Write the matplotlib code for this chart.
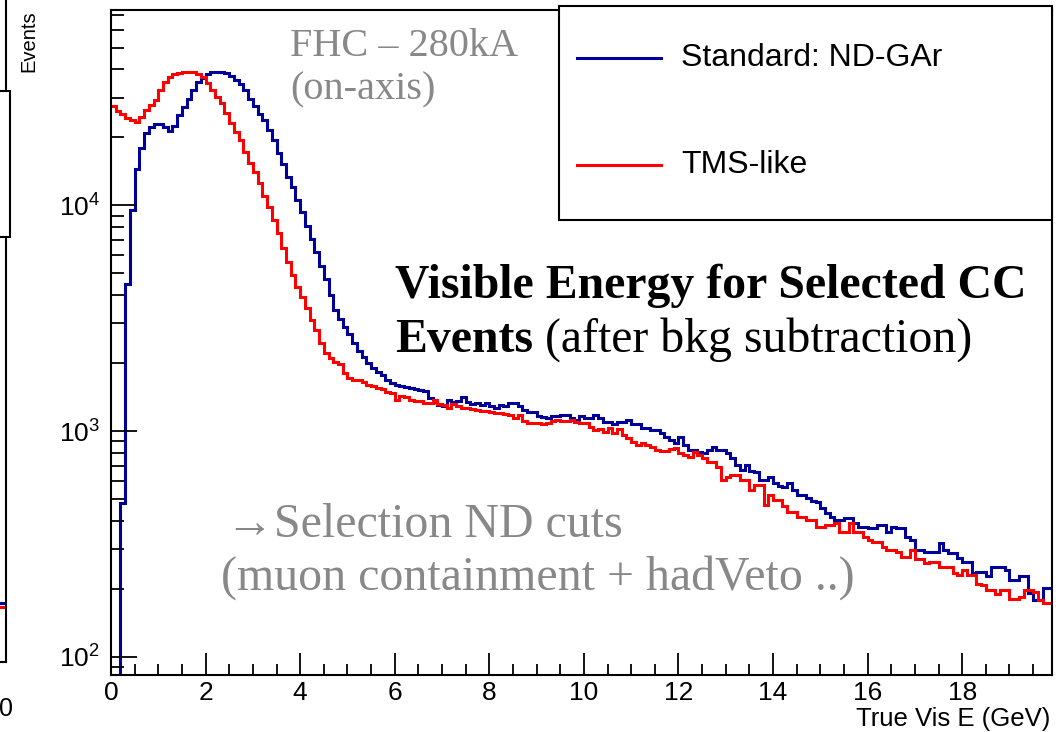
import matplotlib
matplotlib.use("Agg")
import matplotlib.pyplot as plt
import numpy as np
from matplotlib.patches import Rectangle
from matplotlib.lines import Line2D
from matplotlib.ticker import MultipleLocator, LogLocator, FixedLocator, NullFormatter

plt.rcParams['font.family'] = ['Liberation Sans', 'DejaVu Sans']
plt.rcParams['mathtext.fontset'] = 'custom'
plt.rcParams['mathtext.rm'] = 'Liberation Sans'
plt.rcParams['mathtext.it'] = 'Liberation Sans'

# True visible energy histograms, 0.1 GeV bins from 0 to 20 GeV
bin_edges = np.linspace(0, 20, 201)

standard_ndgar = [
    0, 0, 480, 4500, 9500, 14500, 17900, 21000, 22300, 23000,
    23000, 22300, 21400, 22500, 25000, 27300, 29500, 32500, 35000, 36800,
    38200, 38800, 38900, 38900, 38600, 37300, 35800, 34300, 32500, 29700,
    27500, 25500, 23800, 21600, 19400, 17000, 15300, 13400, 12000, 10600,
    9300, 8100, 7100, 6200, 5400, 4700, 4000, 3450, 3150, 2900,
    2680, 2450, 2270, 2120, 2000, 1900, 1830, 1770, 1690, 1640,
    1600, 1590, 1570, 1550, 1540, 1520, 1500, 1400, 1340, 1300,
    1290, 1370, 1340, 1360, 1420, 1340, 1320, 1330, 1310, 1330,
    1290, 1270, 1300, 1290, 1330, 1330, 1290, 1240, 1220, 1210,
    1160, 1150, 1140, 1160, 1160, 1180, 1180, 1140, 1120, 1160,
    1140, 1140, 1180, 1140, 1100, 1100, 1070, 1100, 1100, 1120,
    1070, 1070, 1030, 1030, 1010, 1010, 977, 943, 912, 885,
    940, 870, 824, 820, 810, 800, 824, 852, 824, 824,
    800, 758, 707, 672, 707, 662, 660, 607, 607, 628,
    590, 568, 566, 590, 548, 520, 520, 503, 488, 486,
    455, 432, 417, 404, 404, 410, 410, 390, 376, 376,
    370, 370, 384, 384, 358, 376, 370, 370, 340, 330,
    296, 296, 290, 290, 290, 318, 296, 287, 287, 273,
    263, 263, 234, 238, 238, 227, 250, 250, 250, 242,
    219, 219, 228, 228, 191, 178, 178, 201, 201, 200,
]

tms_like = [
    27500, 26100, 25500, 24400, 23900, 23400, 24700, 26500, 27900, 29300,
    32400, 35300, 37100, 38100, 38700, 39100, 39100, 39000, 38100, 36900,
    34700, 32400, 30300, 28300, 25600, 23200, 21200, 19500, 17300, 15400,
    14000, 12500, 11000, 9800, 8600, 7500, 6470, 5610, 4910, 4340,
    3920, 3500, 3100, 2800, 2450, 2210, 2100, 2020, 1980, 1810,
    1720, 1690, 1690, 1650, 1600, 1580, 1550, 1530, 1490, 1470,
    1370, 1430, 1420, 1370, 1360, 1360, 1330, 1330, 1370, 1320,
    1300, 1270, 1320, 1290, 1270, 1270, 1250, 1240, 1230, 1230,
    1210, 1200, 1200, 1190, 1180, 1140, 1180, 1110, 1080, 1090,
    1090, 1070, 1080, 1110, 1120, 1110, 1110, 1120, 1100, 1090,
    1090, 1040, 1010, 1020, 990, 1030, 980, 1020, 960, 930,
    895, 870, 885, 870, 850, 824, 815, 815, 830, 840,
    800, 785, 770, 805, 785, 757, 731, 731, 695, 607,
    628, 640, 638, 607, 607, 548, 577, 577, 471, 520,
    496, 496, 464, 439, 439, 418, 418, 404, 404, 376,
    376, 384, 384, 390, 358, 358, 390, 358, 358, 340,
    329, 323, 323, 307, 296, 296, 290, 277, 277, 296,
    270, 270, 259, 263, 263, 250, 250, 250, 234, 230,
    242, 230, 230, 211, 208, 197, 197, 190, 197, 197,
    181, 181, 184, 197, 197, 194, 178, 173, 173, 173,
]

series_labels = ['Standard: ND-GAr', 'TMS-like']
series_colors = ['#000099', '#ff0000']

x_ticks = [0, 2, 4, 6, 8, 10, 12, 14, 16, 18]
y_ticks = [1e2, 1e3, 1e4]
y_tick_labels = ['$10^{2}$', '$10^{3}$', '$10^{4}$']

# tail of the neighbouring panel that is cut off at the left edge
left_panel_blue = [146]
left_panel_red = [140]

XMAX = 19.9
YMIN, YMAX = 83, 73300
W, H = 1060, 732

fig = plt.figure(figsize=(W / 100, H / 100), dpi=100)

# ---- cut-off neighbour panel on the left ----
axl = fig.add_axes([-0.3, 1 - 662 / H, 0.3 + 6 / W, 662 / H + 10 / H])
axl.set_yscale('log')
axl.set_ylim(10 ** 1.9, 10 ** 4.9)
axl.set_xlim(0, 20)
axl.stairs(left_panel_blue, [0, 20], baseline=None, color=series_colors[0], lw=2.2)
axl.stairs(left_panel_red, [0, 20], baseline=None, color=series_colors[1], lw=2.2)
for side in ['top', 'left']:
    axl.spines[side].set_visible(False)
for side in ['right', 'bottom']:
    axl.spines[side].set_linewidth(1.5)
axl.set_yticks([])
axl.yaxis.set_minor_locator(FixedLocator([]))
axl.set_xticks([20])
axl.set_xticklabels(['0'])
axl.tick_params(axis='x', length=0, labelsize=18, pad=25)
fig.patches.append(Rectangle((-0.1, 1 - 237 / H), 0.1 + 10 / W, 0.2,
                             transform=fig.transFigure, facecolor='white',
                             edgecolor='black', lw=1.5, zorder=5))

# ---- main panel ----
ax = fig.add_axes([111 / W, 1 - 675 / H, (1052 - 111) / W, (675 - 10) / H])
ax.set_yscale('log')
ax.set_xlim(0, XMAX)
ax.set_ylim(YMIN, YMAX)

for vals, color in zip([standard_ndgar, tms_like], series_colors):
    shown = np.clip(np.array(vals, dtype=float), YMIN, None)
    st = ax.stairs(shown, bin_edges, baseline=None, color=color, lw=2.2)
    st.set_joinstyle('miter')

for s in ax.spines.values():
    s.set_linewidth(1.5)

ax.set_xticks(x_ticks)
ax.set_xticklabels([str(t) for t in x_ticks])
ax.xaxis.set_minor_locator(MultipleLocator(0.5))
ax.set_yticks(y_ticks)
ax.set_yticklabels(y_tick_labels)
ax.yaxis.set_minor_locator(LogLocator(base=10, subs=np.arange(2, 10)))
ax.yaxis.set_minor_formatter(NullFormatter())
ax.tick_params(axis='x', which='major', direction='in', length=16, width=1.3,
               labelsize=19, pad=4, top=False)
ax.tick_params(axis='x', which='minor', direction='in', length=8, width=1.3, top=False)
ax.tick_params(axis='y', which='major', direction='in', length=19, width=1.3,
               labelsize=19, pad=8, right=False)
ax.tick_params(axis='y', which='minor', direction='in', length=9, width=1.3, right=False)

ax.set_xlabel('True Vis E (GeV)', fontsize=18.5, loc='right')
ax.xaxis.set_label_coords((1050 - 111) / (1052 - 111), -(719 - 675) / 665)
ax.xaxis.label.set_verticalalignment('center')
ax.set_ylabel('Events', fontsize=14.5, loc='top')
ax.yaxis.set_label_coords(-(111 - 38) / (1052 - 111), 1.0)

# annotations
serif = ['Liberation Serif', 'DejaVu Serif']
gray = '#888888'
fx = lambda px: (px - 111) / (1052 - 111)
fy = lambda py: (675 - py) / (675 - 10)
ax.text(fx(290), fy(56), 'FHC \u2013 280kA', family=serif, fontsize=29, color=gray,
        va='baseline', transform=ax.transAxes)
ax.text(fx(290), fy(99), '(on-axis)', family=serif, fontsize=29, color=gray,
        va='baseline', transform=ax.transAxes)
ax.text(fx(395), fy(298), 'Visible Energy for Selected CC', family=serif, fontsize=34.4,
        fontweight='bold', va='baseline', transform=ax.transAxes)
ev = ax.text(fx(395), fy(352), 'Events', family=serif, fontsize=34.4, fontweight='bold',
             va='baseline', transform=ax.transAxes)
ax.annotate(' (after bkg subtraction)', xy=(1, 0), xycoords=ev, family=serif,
            fontsize=34.4, va='bottom', ha='left')
ax.text(fx(226), fy(537), '\u2192Selection ND cuts', family=serif, fontsize=34.5,
        color=gray, va='baseline', transform=ax.transAxes)
ax.text(fx(221), fy(590), '(muon containment + hadVeto ..)', family=serif, fontsize=34.5,
        color=gray, va='baseline', transform=ax.transAxes)

# legend box (ROOT TLegend look)
fig.patches.append(Rectangle((559 / W, 1 - 220 / H), (1052 - 559) / W, (220 - 6) / H,
                             transform=fig.transFigure, facecolor='white',
                             edgecolor='black', lw=1.5, zorder=5))
for label, color, ypx in zip(series_labels, series_colors, [58, 165]):
    fig.lines.append(Line2D([577 / W, 661 / W], [1 - ypx / H] * 2, transform=fig.transFigure,
                            color=color, lw=2.2, zorder=6))
    fig.text(681 / W, 1 - ypx / H, label, fontsize=23, va='center', ha='left', zorder=6)

fig.savefig('out.png', dpi=100)
